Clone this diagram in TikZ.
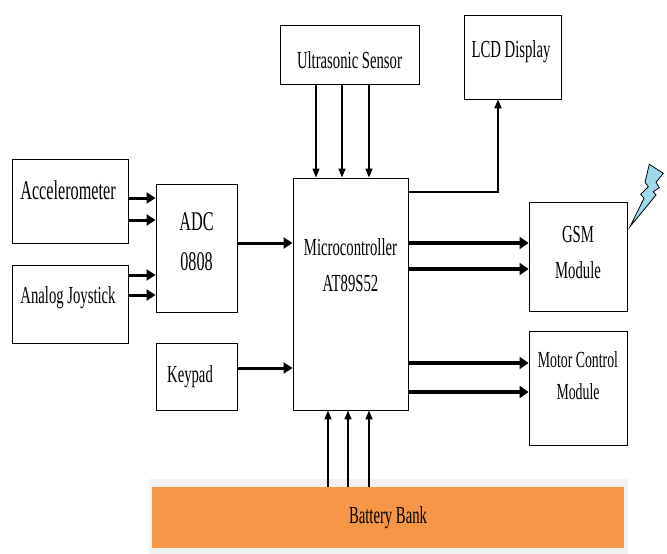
\documentclass[tikz,border=0pt]{standalone}
\usepackage{fontspec}
\setmainfont{Liberation Serif}[FakeStretch=0.6]
\usetikzlibrary{arrows.meta}
\definecolor{batt}{HTML}{F79646}
\definecolor{bolt}{HTML}{9ED8EC}
\tikzset{
  box/.style={draw=black, line width=0.9pt, fill=white, inner sep=0pt},
  txt/.style={font=\fontsize{24.5}{26}\selectfont, inner sep=0pt, align=center},
  bigtxt/.style={font=\fontsize{27}{28}\selectfont, inner sep=0pt, align=center},
  thickarr/.style={line width=3pt, -{Triangle[length=9pt,width=11pt]}},
  fatarr/.style={line width=3.8pt, -{Triangle[length=9pt,width=12pt]}},
  thinarr/.style={line width=1.5pt, -{Triangle[length=9pt,width=7pt]}},
}
\begin{document}
\begin{tikzpicture}[x=1pt,y=-1pt]
\useasboundingbox (0,0) rectangle (667,554);
% boxes
\node[box, minimum width=116pt, minimum height=84pt] (acc) at (70,201) {};
\node[bigtxt] (acct) at (68,190) {Accelerometer};
\node[box, minimum width=116pt, minimum height=78pt] (joy) at (70,304) {};
\node[txt] (joyt) at (68,298) {Analog Joystick};
\node[box, minimum width=81pt, minimum height=128pt] (adc) at (196.5,248) {};
\node[bigtxt, font=\fontsize{27}{40}\selectfont] (adct) at (196.5,242) {ADC\\0808};
\node[box, minimum width=81pt, minimum height=67pt] (key) at (196.5,376.5) {};
\node[txt] (keyt) at (190,377) {Keypad};
\node[box, minimum width=115pt, minimum height=232pt] (mcu) at (350.5,294) {};
\node[txt, font=\fontsize{24.5}{36}\selectfont] (mcut) at (350.5,265) {Microcontroller\\AT89S52};
\node[box, minimum width=139pt, minimum height=59pt] (us) at (349.5,54.5) {};
\node[txt] (ust) at (349.5,60) {Ultrasonic Sensor};
\node[box, minimum width=97pt, minimum height=84pt] (lcd) at (512.5,57) {};
\node[txt] (lcdt) at (511,52) {LCD Display};
\node[box, minimum width=98pt, minimum height=109pt] (gsm) at (578,256.5) {};
\node[txt, font=\fontsize{24.5}{36}\selectfont] (gsmt) at (578,253) {GSM\\Module};
\node[box, minimum width=98pt, minimum height=114pt] (mot) at (578,388) {};
\node[txt, font=\fontsize{23}{32}\selectfont] (mott) at (578,376) {Motor Control\\Module};
% battery
\fill[gray!10] (149,479) rectangle (628,554);
\node[fill=batt, minimum width=472pt, minimum height=61pt, inner sep=0pt] (bat) at (388,517.5) {};
\node[txt] (batt) at (388,518) {Battery Bank};
% lightning bolt
\draw[fill=bolt, line width=0.8pt, line join=miter]
  (649.3,164.3) -- (663.3,173.3) -- (656,182.3) -- (659.3,187.7) -- (653.3,191.7)
  -- (656,195) -- (630,226.7) -- (644,198.3) -- (640.7,194.3) -- (648.3,186.7)
  -- (645,182.3) -- cycle;
% arrows left
\draw[thickarr] (acc.east |- 0,198) -- (adc.west |- 0,198);
\draw[thickarr] (acc.east |- 0,220) -- (adc.west |- 0,220);
\draw[thickarr] (joy.east |- 0,275) -- (adc.west |- 0,275);
\draw[thickarr] (joy.east |- 0,295) -- (adc.west |- 0,295);
\draw[thickarr] (adc.east |- 0,243) -- (mcu.west |- 0,243);
\draw[thickarr] (key.east |- 0,368) -- (mcu.west |- 0,368);
% ultrasonic
\draw[thinarr] (us.south -| 316,0) -- (mcu.north -| 316,0);
\draw[thinarr] (us.south -| 342,0) -- (mcu.north -| 342,0);
\draw[thinarr] (us.south -| 369,0) -- (mcu.north -| 369,0);
% battery
\draw[thinarr] (bat.north -| 328,0) -- (mcu.south -| 328,0);
\draw[thinarr] (bat.north -| 348,0) -- (mcu.south -| 348,0);
\draw[thinarr] (bat.north -| 369,0) -- (mcu.south -| 369,0);
% LCD
\draw[line width=2pt, -{Triangle[length=9pt,width=7pt]}] (mcu.east |- 0,192) -| (lcd.south -| 498,0);
% GSM and motor
\draw[fatarr] (mcu.east |- 0,243) -- (gsm.west |- 0,243);
\draw[fatarr] (mcu.east |- 0,269) -- (gsm.west |- 0,269);
\draw[fatarr] (mcu.east |- 0,363) -- (mot.west |- 0,363);
\draw[fatarr] (mcu.east |- 0,392) -- (mot.west |- 0,392);
\end{tikzpicture}
\end{document}
